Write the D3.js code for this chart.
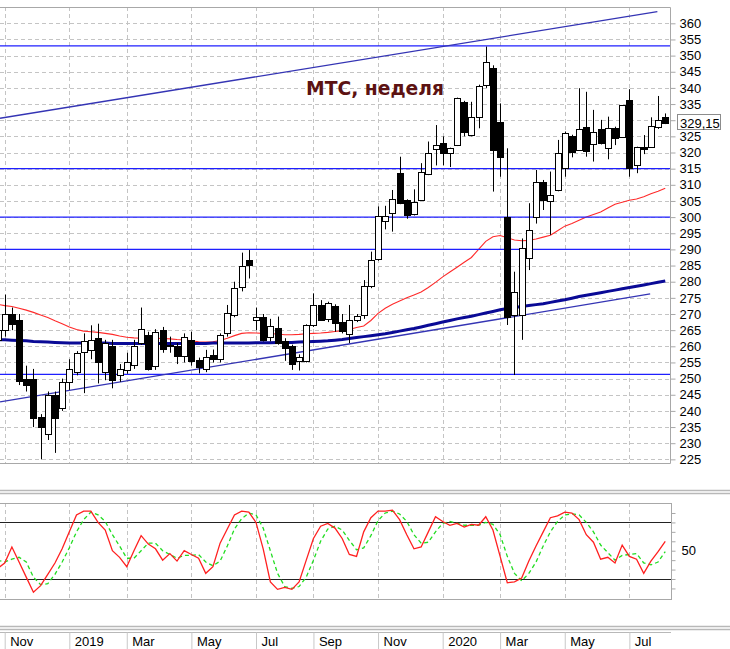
<!DOCTYPE html>
<html>
<head>
<meta charset="utf-8">
<style>
  body { margin: 0; background: #fff; }
  svg { display: block; font-family: "Liberation Sans", Arial, sans-serif; }
  .tick text { font-size: 13px; fill: #000; }
</style>
</head>
<body>
<script src="https://cdnjs.cloudflare.com/ajax/libs/d3/7.8.5/d3.min.js"></script>
<script>
// weekly bars, index 0 = week of 29 Oct 2018
var weeks = d3.range(-1, 93);

var open  = [262, 265, 270, 268, 250, 250, 238, 233, 245, 241, 249, 252, 258, 259, 262.5, 252, 260,
             251, 252.6, 254, 261, 263.5, 254, 265, 260, 260.2, 257.1, 262, 255.8, 253.2, 257.2, 256.2,
             264, 269.7, 278.5, 286.7, 268, 269.2, 263, 265.8, 261.5, 260, 255.5, 255.5, 266.6, 272.8,
             268.7, 272.5, 267.4, 264, 268.2, 269.7, 278.7, 286.9, 298.9, 301.2, 313.8, 305.3, 301.2,
             305.3, 313.6, 321, 323, 319.8, 322.3, 335.7, 325.4, 331.1, 340.9, 346.1, 329.5, 300.1,
             269.7, 269.7, 287.3, 300.1, 311, 305.1, 308.4, 315.1, 325.1, 320.8, 327.8, 322.8, 327.2,
             321.3, 327.5, 324.9, 336.3, 316.1, 321.6, 321.8, 327.8, 331.1];
var high  = [266, 276, 272, 270, 254, 253, 239, 246, 246, 250, 256, 258.5, 264, 266.5, 267, 262, 262,
             254.5, 258, 262, 272, 264.5, 265.3, 266, 263, 261, 264, 264.5, 256.5, 258.9, 259, 264,
             272.8, 280, 289, 289.8, 272, 270, 268.5, 269.2, 262.5, 260.5, 257.5, 266.8, 276.4, 274.3,
             273.8, 273, 270, 272.8, 270, 280.5, 289.3, 303.3, 303.5, 308.4, 318.7, 305.5, 308.6,
             316.7, 323.4, 328.5, 325, 321.5, 337, 336, 335.7, 341, 352.8, 347, 335.2, 321.3,
             283.1, 293.4, 304.3, 314.6, 311.5, 314.1, 323.9, 326.5, 325.5, 339.9, 338.8, 333.2, 330.1,
             331.1, 328, 334.7, 339.6, 321.8, 325.4, 330.9, 337.5, 332.1];
var low   = [257, 263, 265, 248, 246, 235, 225, 231, 227, 240, 246.5, 251, 245.5, 256, 248.5, 249.5, 247,
             249, 251.5, 253, 260.4, 252.5, 252.7, 258, 258, 254.5, 255, 254, 251.6, 252, 255, 255,
             263, 269, 277, 281, 265, 261.5, 261.5, 260.5, 255.5, 252.7, 252.5, 255, 266, 268,
             267.5, 264.5, 264, 261, 267.5, 268.5, 278, 286.5, 296.2, 295.5, 304, 299.5, 300.5,
             305, 313, 316, 316, 315.5, 322, 325, 325, 327.5, 340, 307.9, 312.5, 266.6,
             251.1, 262, 283.6, 298, 302.2, 294.5, 308, 312.5, 318.5, 320.5, 318.7, 317.2, 322.5,
             317.9, 322.3, 324.7, 312.5, 313.6, 319.5, 321.5, 327.3, 328.8];
var close = [265, 270, 267, 249, 248, 238, 235, 245, 238, 249, 253, 258, 261.5, 262, 255, 261, 249.5,
             253, 255.2, 260, 265.3, 253, 264.5, 259, 260.3, 257.1, 263, 255.4, 253.7, 256.8, 256.1, 263.5,
             270.2, 278, 285, 285.2, 269, 262.2, 266.3, 261.2, 259.2, 254.5, 256.8, 266.6, 272.8, 268.2,
             273.5, 267.1, 264.5, 268.2, 269.5, 278.7, 286.7, 300.3, 300.3, 305.5, 304.5, 300.6, 304.8,
             314.1, 320, 322.3, 319.8, 321.3, 336.8, 326.4, 331.1, 340.6, 348.1, 320.8, 318.7, 269.2,
             276.9, 290.3, 296, 311, 305.3, 306.9, 319.8, 326, 320.3, 327.2, 320.3, 326.4, 322.8,
             327.5, 324.4, 334.7, 315.1, 321.8, 321.0, 328.2, 330.1, 329.15];

// moving averages
var maFast = [273, 272.6, 272.3, 271.8, 271.2, 270.5, 269.7, 268.9, 267.9, 267, 266, 265.2, 264.7, 264.5,
              264.3, 264, 263.7, 263.2, 262.8, 262.6, 262.5, 262.5, 262.5, 262.4, 262.3, 262.1, 262, 261.7,
              261.4, 261.3, 261.4, 261.8, 262.5, 263.3, 264, 264.2, 264.1, 264, 263.9, 263.8, 263.6, 263.6,
              263.7, 263.9, 264, 264.1, 264.3, 264.6, 264.8, 265.2, 265.8, 266.3, 268, 270.2, 271.8, 273,
              274, 275, 275.9, 276.8, 278.2, 279.8, 281.5, 283, 284.5, 286, 287.5, 290, 292.5, 293.9, 294.3,
              293.6, 292.9, 292.7, 292.8, 293.2, 293.8, 294.4, 295.8, 297.2, 298, 299, 300, 300.8, 301.6,
              302.8, 304, 304.6, 305.2, 305.6, 306.3, 307.2, 308, 308.9];
var maSlow = [262.1, 262, 261.9, 261.8, 261.7, 261.5, 261.4, 261.3, 261.2, 261.1, 261, 261, 261, 261, 261,
              261, 260.9, 260.9, 260.9, 260.9, 260.9, 260.9, 260.9, 260.9, 260.9, 260.9, 260.9, 260.9, 260.9,
              260.9, 261, 261, 261, 261, 261, 261, 261.1, 261.1, 261.1, 261.2, 261.2, 261.2, 261.3, 261.4,
              261.5, 261.6, 261.7, 261.9, 262.1, 262.4, 262.7, 263, 263.3, 263.6, 263.9, 264.3, 264.7,
              265.1, 265.5, 266, 266.5, 267, 267.5, 268, 268.5, 268.9, 269.3, 269.8, 270.3, 270.8, 271.3,
              271.7, 272, 272.3, 272.6, 272.9, 273.2, 273.6, 274, 274.4, 274.9, 275.4, 275.8, 276.2, 276.6,
              277, 277.4, 277.8, 278.2, 278.6, 279, 279.4, 279.8, 280.2, 280.6];

// stochastic %K and %D
var stochK = [31, 37, 54, 38, 22, 6, 13, 25, 37, 52, 70, 88, 92, 92, 80, 72, 50, 43, 33, 50, 66, 57, 52,
              40, 47, 39, 50, 46, 42, 26, 33, 58, 73, 88, 92, 91, 80, 52, 17, 9, 11, 9, 17, 40, 63, 76, 79,
              74, 63, 46, 44, 70, 85, 92, 92, 93, 83, 67, 52, 54, 70, 86, 81, 77, 79, 75, 78, 77, 86, 72,
              44, 16, 17, 21, 39, 55, 70, 85, 87, 91, 90, 83, 67, 59, 41, 43, 37, 56, 44, 41, 26, 39, 49, 60];
var stochD = [40, 38, 41, 43, 38, 22, 14, 15, 25, 38, 53, 70, 83, 91, 88, 81, 67, 55, 42, 42, 50, 58, 58,
              50, 46, 42, 45, 45, 46, 38, 34, 39, 55, 73, 84, 90, 88, 74, 50, 26, 12, 10, 12, 22, 40, 60, 73,
              76, 72, 61, 51, 53, 66, 82, 90, 92, 89, 81, 67, 58, 59, 70, 79, 81, 79, 77, 77, 77, 80, 78,
              67, 44, 26, 18, 26, 38, 55, 70, 81, 88, 89, 88, 80, 70, 56, 48, 40, 45, 46, 47, 37, 35, 38, 49];

// drawn levels and trend lines [week, price]
var levels = [353, 315, 300, 290, 251.3];
var upperTrend = [[-0.65, 330.6], [90.9, 363.6]];
var lowerTrend = [[-0.65, 242.8], [89.9, 276.2]];

var priceTicks = d3.range(225, 361, 5);
var stochTicks = [10, 20, 30, 40, 50, 60, 70, 80, 90];
var stochBands = [80, 20];
var monthWeeks  = [0, 9, 17, 26, 35, 43, 52, 61, 69, 78, 87];
var monthLabels = ["Nov", "2019", "Mar", "May", "Jul", "Sep", "Nov", "2020", "Mar", "May", "Jul"];

var title = "МТС, неделя";

var W = 730, H = 649;
var plotR = 670, mainTop = 7, mainBot = 463, stTop = 503, stBot = 599;

var svg = d3.select("body").append("svg")
            .attr("width", W).attr("height", H);

var x  = d3.scaleLinear().domain([-0.655, 92.66]).range([0, plotR]);
var y  = d3.scaleLinear().domain([223.87, 365.05]).range([mainBot, mainTop]);
var ys = d3.scaleLinear().domain([-1.2, 100.6]).range([stBot, stTop]);

function px(v) { return Math.round(v) + 0.5; }

svg.append("clipPath").attr("id", "clipMain")
   .append("rect").attr("x", 0).attr("y", mainTop).attr("width", plotR).attr("height", mainBot - mainTop);
svg.append("clipPath").attr("id", "clipSt")
   .append("rect").attr("x", 0).attr("y", stTop).attr("width", plotR + 1).attr("height", stBot - stTop);

var grid = "#c4c4c4";

// ---------- main panel ----------
var main = svg.append("g").attr("clip-path", "url(#clipMain)");

main.selectAll(".hgrid").data(priceTicks).enter().append("line")
    .attr("x1", 0).attr("x2", plotR)
    .attr("y1", function(d) { return px(y(d)); }).attr("y2", function(d) { return px(y(d)); })
    .attr("stroke", grid).attr("stroke-dasharray", "4,3");

main.selectAll(".vgrid").data(monthWeeks).enter().append("line")
    .attr("x1", function(d) { return px(x(d)); }).attr("x2", function(d) { return px(x(d)); })
    .attr("y1", mainTop).attr("y2", mainBot)
    .attr("stroke", grid).attr("stroke-dasharray", "4,3");

var lineY = d3.line().x(function(d, i) { return x(weeks[i]); }).y(function(d) { return y(d); });

main.append("path").datum(maFast).attr("d", lineY)
    .attr("fill", "none").attr("stroke", "#ff2a2a").attr("stroke-width", 1.1);
main.append("path").datum(maSlow).attr("d", lineY)
    .attr("fill", "none").attr("stroke", "#0a0a96").attr("stroke-width", 3);

main.selectAll(".level").data(levels).enter().append("line")
    .attr("x1", 0).attr("x2", plotR)
    .attr("y1", function(d) { return y(d); }).attr("y2", function(d) { return y(d); })
    .attr("stroke", "#1f1fff").attr("stroke-width", 1.2);

[upperTrend, lowerTrend].forEach(function(t) {
  main.append("line")
      .attr("x1", x(t[0][0])).attr("y1", y(t[0][1]))
      .attr("x2", x(t[1][0])).attr("y2", y(t[1][1]))
      .attr("stroke", "#3434b4").attr("stroke-width", 1.3);
});

// candles
var candles = main.selectAll(".candle").data(weeks).enter().append("g");
candles.append("line")
    .attr("x1", function(d) { return px(x(d)); }).attr("x2", function(d) { return px(x(d)); })
    .attr("y1", function(d, i) { return y(high[i]); }).attr("y2", function(d, i) { return y(low[i]); })
    .attr("stroke", "#000");
candles.append("rect")
    .attr("x", function(d) { return Math.round(x(d)) - 2.5; })
    .attr("width", 6)
    .attr("y", function(d, i) { return Math.round(y(Math.max(open[i], close[i]))) + 0.5; })
    .attr("height", function(d, i) { return Math.max(1, Math.round(Math.abs(y(open[i]) - y(close[i])))); })
    .attr("fill", function(d, i) { return close[i] >= open[i] ? "#fff" : "#000"; })
    .attr("stroke", "#000");

// title
svg.append("text")
   .attr("x", 306).attr("y", 95)
   .attr("font-family", "'DejaVu Sans', Verdana, sans-serif")
   .attr("font-weight", "bold").attr("font-size", 20)
   .attr("textLength", 138).attr("lengthAdjust", "spacingAndGlyphs")
   .attr("fill", "#5c1212")
   .text(title);

// main frame
var frame = "#a8a8a8";
svg.append("path")
   .attr("d", "M0," + (mainTop + 0.5) + "H" + (plotR + 0.5) + "V" + (mainBot + 0.5) + "H0")
   .attr("fill", "none").attr("stroke", frame);

// price axis; the label under the last-price box is not shown
var last = close[close.length - 1];
var lastY = y(last);
var yAxis = svg.append("g")
   .attr("transform", "translate(" + (plotR + 0.5) + ",0)")
   .call(d3.axisRight(y).tickValues(priceTicks).tickSize(5).tickPadding(4)
           .tickFormat(function(d) { return Math.abs(y(d) - lastY) < 8 ? "" : d; }));
yAxis.select(".domain").remove();
yAxis.selectAll(".tick line").attr("stroke", frame);

// last price box
svg.append("rect")
   .attr("x", 677.5).attr("y", Math.round(lastY) - 8.5).attr("width", 43).attr("height", 15)
   .attr("fill", "#fff").attr("stroke", "#8c8c8c");
svg.append("text")
   .attr("x", 680).attr("y", lastY).attr("dy", "0.35em")
   .attr("font-size", 13).attr("fill", "#000")
   .text(d3.format(".2f")(last).replace(".", ","));

// ---------- separators ----------
var sep = "#b8b8b8";
[490.5, 493.5, 626.5, 629.5].forEach(function(v) {
  svg.append("line").attr("x1", 0).attr("x2", W).attr("y1", v).attr("y2", v)
     .attr("stroke", sep).attr("stroke-width", 1.3);
});

// ---------- stochastic panel ----------
var st = svg.append("g").attr("clip-path", "url(#clipSt)");

st.selectAll(".vgrid").data(monthWeeks).enter().append("line")
  .attr("x1", function(d) { return px(x(d)); }).attr("x2", function(d) { return px(x(d)); })
  .attr("y1", stTop).attr("y2", stBot)
  .attr("stroke", grid).attr("stroke-dasharray", "4,3");

st.selectAll(".band").data(stochBands).enter().append("line")
  .attr("x1", 0).attr("x2", plotR + 1)
  .attr("y1", function(d) { return px(ys(d)); }).attr("y2", function(d) { return px(ys(d)); })
  .attr("stroke", "#222").attr("stroke-width", 1.2);

var lineS = d3.line().x(function(d, i) { return x(weeks[i]); }).y(function(d) { return ys(d); });

st.append("path").datum(stochD).attr("d", lineS)
  .attr("fill", "none").attr("stroke", "#22dd22").attr("stroke-width", 1.3)
  .attr("stroke-dasharray", "4,3");
st.append("path").datum(stochK).attr("d", lineS)
  .attr("fill", "none").attr("stroke", "#ff2020").attr("stroke-width", 1.3);

svg.append("rect")
   .attr("x", -1).attr("y", stTop + 0.5).attr("width", plotR + 2.5).attr("height", stBot - stTop)
   .attr("fill", "none").attr("stroke", frame);

var sAxis = svg.append("g")
   .attr("transform", "translate(" + (plotR + 1.5) + ",0)")
   .call(d3.axisRight(ys).tickValues(stochTicks).tickSize(4).tickPadding(6)
           .tickFormat(function(d) { return d === 50 ? "50" : ""; }));
sAxis.select(".domain").remove();
sAxis.selectAll(".tick line").attr("stroke", frame);

// ---------- time axis ----------
svg.append("line").attr("x1", 0).attr("x2", plotR + 1).attr("y1", 632.5).attr("y2", 632.5)
   .attr("stroke", sep);

var xAxis = svg.append("g")
   .attr("transform", "translate(0,632.5)")
   .call(d3.axisBottom(x).tickValues(monthWeeks).tickSize(17)
           .tickFormat(function(d, i) { return monthLabels[i]; }));
xAxis.select(".domain").remove();
xAxis.selectAll(".tick line").attr("stroke", "#c8c8c8");
xAxis.selectAll(".tick text")
     .attr("text-anchor", "start").attr("x", 5).attr("y", 4).attr("dy", "0.71em");
</script>
</body>
</html>
